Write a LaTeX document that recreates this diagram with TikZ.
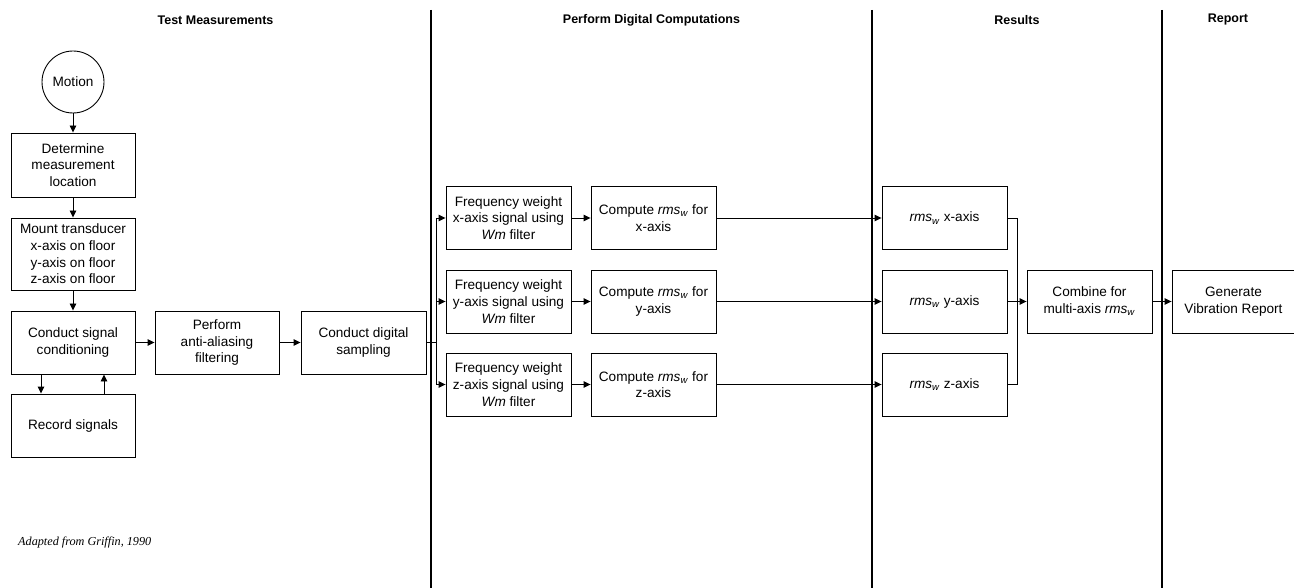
\documentclass[tikz,border=0pt]{standalone}
\usepackage{fontspec}
\setmainfont{Liberation Sans}
\newfontfamily\refserif{Liberation Serif}
\usetikzlibrary{arrows.meta}
\newcommand{\rmsw}{\textit{rms}\textsubscript{\textit{w}}}
\begin{document}
\begin{tikzpicture}[x=1pt,y=-1pt,
  box/.style={draw, line width=0.9pt, minimum width=124pt, minimum height=63pt, align=center, inner sep=1pt, font=\fontsize{13.6}{16.7}\selectfont},
  lane/.style={font=\fontsize{12.5}{14}\selectfont\bfseries},
  sep/.style={line width=1.6pt},
  arr/.style={line width=0.9pt, -{Triangle[length=7pt,width=6.5pt]}},
  ln/.style={line width=0.9pt}]
\useasboundingbox (0,0) rectangle (1294,588);
% lanes
\draw[sep] (431,10) coordinate (s1a) -- (431,588) coordinate (s1b);
\draw[sep] (872,10) coordinate (s2a) -- (872,588) coordinate (s2b);
\draw[sep] (1162,10) coordinate (s3a) -- (1162,588) coordinate (s3b);
\node[lane] (t1) at (215.5,20) {Test Measurements};
\node[lane] (t2) at (651.5,20) {Perform Digital Computations};
\node[lane] (t3) at (1017,20) {Results};
\node[lane] (t4) at (1228,20) {Report};
% test measurements
\node[draw, circle, line width=0.9pt, minimum size=62pt, inner sep=0pt, font=\fontsize{13.6}{16.7}\selectfont] (motion) at (73,82) {Motion};
\node[box, minimum height=64pt] (det) at (73,165) {Determine\\measurement\\location};
\node[box, minimum height=72pt] (mount) at (73,254) {Mount transducer\\x-axis on floor\\y-axis on floor\\z-axis on floor};
\node[box] (cond) at (73,342.5) {Conduct signal\\conditioning};
\node[box] (rec) at (73,425.5) {Record signals};
\node[box] (aa) at (217,342.5) {Perform\\anti-aliasing\\filtering};
\node[box, minimum width=125pt] (samp) at (363.5,342.5) {Conduct digital\\sampling};
% computations
\node[box, minimum width=125pt] (fx) at (508.5,218) {Frequency weight\\x-axis signal using\\\textit{Wm} filter};
\node[box, minimum width=125pt] (fy) at (508.5,301.5) {Frequency weight\\y-axis signal using\\\textit{Wm} filter};
\node[box, minimum width=125pt] (fz) at (508.5,384.5) {Frequency weight\\z-axis signal using\\\textit{Wm} filter};
\node[box, minimum width=125pt] (cx) at (653.5,218) {Compute \rmsw{} for\\x-axis};
\node[box, minimum width=125pt] (cy) at (653.5,301.5) {Compute \rmsw{} for\\y-axis};
\node[box, minimum width=125pt] (cz) at (653.5,384.5) {Compute \rmsw{} for\\z-axis};
% results
\node[box, minimum width=125pt] (rx) at (944.5,218) {\rmsw{} x-axis};
\node[box, minimum width=125pt] (ry) at (944.5,301.5) {\rmsw{} y-axis};
\node[box, minimum width=125pt] (rz) at (944.5,384.5) {\rmsw{} z-axis};
\node[box, minimum width=125pt] (comb) at (1089.5,301.5) {Combine for\\multi-axis \rmsw};
% report
\node[box, minimum width=123pt] (gen) at (1233.5,301.5) {Generate\\Vibration Report};
% note
\node[anchor=west, inner sep=0pt, font=\refserif\itshape\fontsize{12.2}{14}\selectfont] (note) at (18,543) {Adapted from Griffin, 1990};
% connectors
\draw[arr] (motion) -- (det);
\draw[arr] (det) -- (mount);
\draw[arr] (mount) -- (cond);
\draw[arr] ([xshift=-32pt]cond.south) -- ([xshift=-32pt]rec.north);
\draw[arr] ([xshift=31pt]rec.north) -- ([xshift=31pt]cond.south);
\draw[arr] (cond) -- (aa);
\draw[arr] (aa) -- (samp);
\coordinate (br1) at (436,342.5);
\draw[ln] (samp.east) -- (br1);
\draw[arr] (br1) |- (fx.west);
\draw[arr] (br1) |- (fy.west);
\draw[arr] (br1) |- (fz.west);
\draw[arr] (fx) -- (cx);
\draw[arr] (fy) -- (cy);
\draw[arr] (fz) -- (cz);
\draw[arr] (cx) -- (rx);
\draw[arr] (cy) -- (ry);
\draw[arr] (cz) -- (rz);
\coordinate (br2) at (1017,301.5);
\draw[ln] (rx.east) -| (br2);
\draw[ln] (rz.east) -| (br2);
\draw[arr] (ry) -- (comb);
\draw[arr] (comb) -- (gen);
\end{tikzpicture}
\end{document}
